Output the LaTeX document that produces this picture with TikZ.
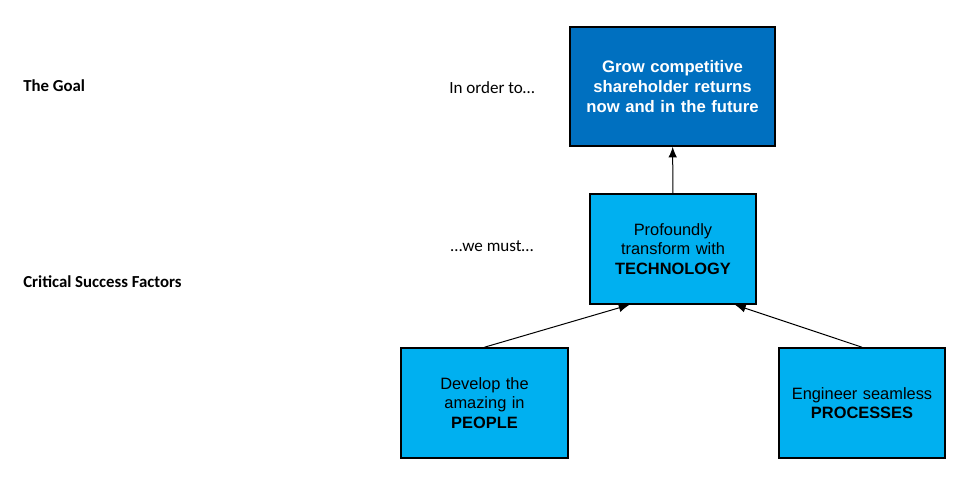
\documentclass[tikz,border=0pt]{standalone}
\usepackage{fontspec}
\setmainfont{Liberation Sans}
\newfontfamily\labelfont{Carlito}
\usepackage{tikz}
\definecolor{goalblue}{RGB}{0,112,192}
\definecolor{csfblue}{RGB}{0,176,240}
\usetikzlibrary{arrows.meta, calc}

\begin{document}
\begin{tikzpicture}[x=0.75pt, y=-0.75pt,
        >={Latex[length=8pt,width=6.5pt]},   %default arrow tips
        box/.style={draw=black, line width=1.2pt, inner sep=0pt, align=center, font=\fontsize{12.3}{14.6}\selectfont},
        goalbox/.style={box, fill=goalblue, text=white, minimum width=205*0.75pt, minimum height=119*0.75pt, text width=190*0.75pt, font=\fontsize{12.5}{15}\selectfont\bfseries},
        csfbox/.style={box, fill=csfblue, text=black, minimum width=166*0.75pt, minimum height=110*0.75pt, text width=160*0.75pt},
        link/.style={->, line width=0.75pt},
        lvl/.style={font=\labelfont\fontsize{12.6}{14}\selectfont\bfseries, anchor=west, inner sep=0pt},
        conj/.style={font=\labelfont\fontsize{12.8}{14}\selectfont, inner sep=0pt}]
        %page frame
        \useasboundingbox (0,0) rectangle (970,487);
        % row labels
        \node[lvl] (lgoal) at (23,86) {The Goal};
        \node[lvl] (lcsf) at (23,282) {Critical Success Factors};
        \node[conj] (inorder) at (492,88) {In order to…};
        \node[conj] (wemust) at (492,246) {…we must…};
        % boxes
        \node[goalbox] (goal) at (672.5,86.5) {Grow competitive shareholder returns now and in the future};
        \node[csfbox] (tech) at (673,249) {Profoundly\\transform with\\\textbf{TECHNOLOGY}};
        \node[csfbox, minimum width=167*0.75pt] (people) at (484.5,403) {Develop the\\amazing in\\\textbf{PEOPLE}};
        \node[csfbox] (process) at (862,403) {Engineer seamless\\\textbf{PROCESSES}};
        % connectors
        \draw[link] (tech) -- (goal);
        \draw[link] ($(people.north west)!0.5!(people.north east)$) -- ($(tech.south west)!0.24!(tech.south east)$);
        \draw[link] ($(process.north west)!0.5!(process.north east)$) -- ($(tech.south west)!0.87!(tech.south east)$);
\end{tikzpicture}
\end{document}
